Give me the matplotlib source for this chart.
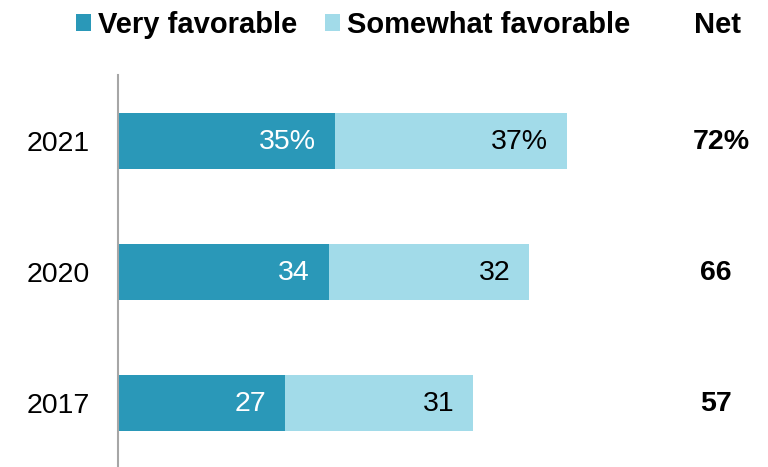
import numpy as np
import matplotlib
matplotlib.use('Agg')
import matplotlib.pyplot as plt

plt.rcParams['font.family'] = ['Liberation Sans', 'DejaVu Sans']

years = ['2021', '2020', '2017']
# bar lengths (labels are rounded)
very = [34.9, 33.9, 26.8]
somewhat = [37.3, 32.2, 30.3]
very_labels = ['35%', '34', '27']
somewhat_labels = ['37%', '32', '31']
net_labels = ['72%', '66', '57']

dark = '#2A98B8'
light = '#A2DBE9'

W, H = 768, 467
fig = plt.figure(figsize=(W/100, H/100), dpi=100)
# axes: left edge at the grey line, top just above the first bar
ax = fig.add_axes([118/W, 0, 1 - 118/W, 1 - 75/H])

ypos = np.arange(len(years))
bh = 0.427
ax.barh(ypos, very, height=bh, color=dark, label='Very favorable')
ax.barh(ypos, somewhat, left=very, height=bh, color=light, label='Somewhat favorable')

for i in range(len(years)):
    ax.annotate(very_labels[i], (very[i], ypos[i]), xytext=(-13.5, -1),
                textcoords='offset points', ha='right', va='center',
                fontsize=20.5, color='white')
    ax.annotate(somewhat_labels[i], (very[i] + somewhat[i], ypos[i]), xytext=(-13.5, -1),
                textcoords='offset points', ha='right', va='center',
                fontsize=20.5, color='black')
    # net column, the "%" hangs to the right of the number
    shift = 4.3 if '%' in net_labels[i] else 0
    ax.annotate(net_labels[i], (96.1, ypos[i]), xytext=(shift, -1),
                textcoords='offset points', ha='center', va='center',
                fontsize=20.5, fontweight='bold', color='black')

ax.set_xlim(0, (W - 118) / 6.22)
ax.set_ylim(2.489, -0.504)
ax.set_yticks(ypos)
ax.set_yticklabels(years, fontsize=20.5)
ax.set_xticks([])
ax.tick_params(axis='y', length=0, pad=20)
for s in ['top', 'right', 'bottom']:
    ax.spines[s].set_visible(False)
ax.spines['left'].set_color('#A6A6A6')
ax.spines['left'].set_linewidth(1.5)

leg = fig.legend(loc='center left', bbox_to_anchor=(76/W, 1 - 25/H), ncol=2,
                 frameon=False, borderpad=0, borderaxespad=0,
                 handlelength=0.52, handleheight=0.52, handletextpad=0.24,
                 columnspacing=0.95, prop={'weight': 'bold', 'size': 21})
fig.text(718/W, 1 - 25/H, 'Net', ha='center', va='center',
         fontsize=21, fontweight='bold')

fig.savefig('out.png', dpi=100)
